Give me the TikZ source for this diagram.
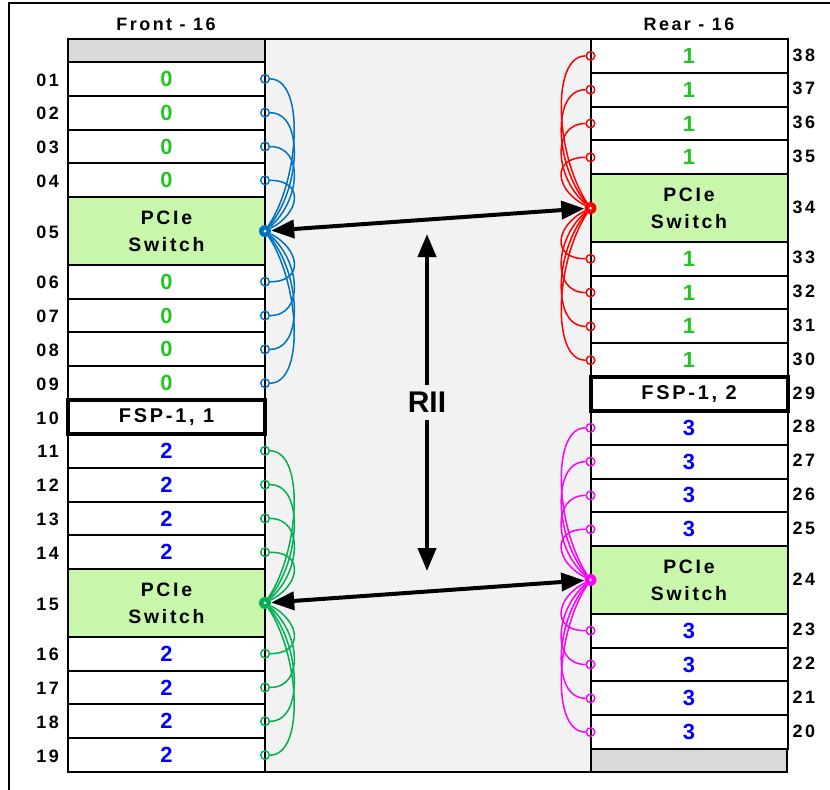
\documentclass[tikz,border=0pt]{standalone}
\usepackage{fontspec}
\setmainfont{Liberation Sans}
\newfontfamily\rackfont{Liberation Sans}[LetterSpace=14]
\usetikzlibrary{arrows.meta,calc}
\usepackage{tkz-euclide}
\definecolor{SwitchClr}{RGB}{200,247,172}
\definecolor{BlankClr}{RGB}{217,217,217}
\definecolor{MidClr}{RGB}{242,242,242}
\definecolor{EvenClr}{RGB}{34,197,34}
\definecolor{OddClr}{RGB}{0,0,255}
\definecolor{FrontTopClr}{RGB}{0,112,192}
\definecolor{FrontBotClr}{RGB}{0,176,80}
\definecolor{RearTopClr}{RGB}{255,0,0}
\definecolor{RearBotClr}{RGB}{255,0,255}
\newcommand\rowh{33.81}

\begin{document}
\begin{tikzpicture}[x=1bp,y=-1bp,
  bay/.style={draw,line width=2bp,fill=white,minimum width=197bp,minimum height=33.81bp,
    inner sep=0pt,outer sep=0pt,font=\rackfont\bfseries\fontsize{22}{22}\selectfont},
  switchbay/.style={bay,fill=SwitchClr,minimum height=67.62bp,align=center,
    font=\rackfont\bfseries\fontsize{19.5}{27}\selectfont},
  fspbay/.style={bay,line width=4bp,font=\rackfont\bfseries\fontsize{20}{20}\selectfont},
  slotnum/.style={font=\rackfont\bfseries\fontsize{18}{18}\selectfont,inner sep=0pt},
  port/.style={circle,draw=#1,line width=1.4bp,minimum size=8.6bp,inner sep=0pt},
  hub/.style={circle,fill=#1,minimum size=12bp,inner sep=0pt},
  link/.style={draw=#1,line width=1.5bp},
  bigarrow/.style={line width=4bp,>={Triangle[length=23bp,width=18bp]},<->}]
\useasboundingbox (0,0) rectangle (830,790);
\clip (0,0) rectangle (830,790);
\draw[line width=1.5bp] (9,3) rectangle (850,810);

\fill[MidClr] (265,39) rectangle (591,772);
\draw[line width=2bp] (265,39) -- (591,39) (265,772) -- (591,772);

\tkzDefPoints{166/24/F,689/24/R,427/234/U,427/571/D}
\node[slotnum] (fronthdr) at (F) {Front - 16};
\node[slotnum] (rearhdr) at (R) {Rear - 16};

\draw[line width=2bp,fill=BlankClr] (68,39) rectangle (265,62);
\draw[line width=2bp,fill=BlankClr] (591,749) rectangle (787,772);

\foreach \s/\n in {0/01,1/02,2/03,3/04,6/06,7/07,8/08,9/09}
  \node[bay,text=EvenClr] (f\n) at (166.5,{62+(\s+.5)*\rowh}) {0};
\foreach \s/\n in {11/11,12/12,13/13,14/14,17/16,18/17,19/18,20/19}
  \node[bay,text=OddClr] (f\n) at (166.5,{62+(\s+.5)*\rowh}) {2};
\node[switchbay] (f05) at (166.5,{62+5*\rowh}) {PCIe\\Switch};
\node[switchbay] (f15) at (166.5,{62+16*\rowh}) {PCIe\\Switch};
\node[fspbay] (f10) at (166.5,{62+10.5*\rowh}) {FSP-1, 1};

\foreach \s/\n in {0/38,1/37,2/36,3/35,6/33,7/32,8/31,9/30}
  \node[bay,text=EvenClr] (r\n) at (689,{39+(\s+.5)*\rowh}) {1};
\foreach \s/\n in {11/28,12/27,13/26,14/25,17/23,18/22,19/21,20/20}
  \node[bay,text=OddClr] (r\n) at (689,{39+(\s+.5)*\rowh}) {3};
\node[switchbay] (r34) at (689,{39+5*\rowh}) {PCIe\\Switch};
\node[switchbay] (r24) at (689,{39+16*\rowh}) {PCIe\\Switch};
\node[fspbay] (r29) at (689,{39+10.5*\rowh}) {FSP-1, 2};

\foreach \n in {01,02,03,04,05,06,07,08,09,10,11,12,13,14,15,16,17,18,19}
  \node[slotnum,anchor=east] (fl\n) at ($(f\n.west)+(-9,1)$) {\n};
\foreach \n in {20,21,22,23,24,25,26,27,28,29,30,31,32,33,34,35,36,37,38}
  \node[slotnum,anchor=west] (rl\n) at ($(r\n.east)+(5,-1)$) {\n};

\node[hub=FrontTopClr] (h05) at (f05.east) {};
\node[hub=FrontBotClr] (h15) at (f15.east) {};
\node[hub=RearTopClr] (h34) at (r34.west) {};
\node[hub=RearBotClr] (h24) at (r24.west) {};
\foreach \h in {h05,h15,h34,h24}
  \fill[white] (\h) circle[radius=1.5bp];

\foreach \s/\n in {0/01,1/02,2/03,3/04,6/06,7/07,8/08,9/09}{
  \node[port=FrontTopClr] (p\n) at (f\n.east) {};
  \draw[link=FrontTopClr] (p\n.east) .. controls +(35,0) and +(35,{.35*(\s-4.5)*\rowh}) .. (h05);
}
\foreach \s/\n in {11/11,12/12,13/13,14/14,17/16,18/17,19/18,20/19}{
  \node[port=FrontBotClr] (p\n) at (f\n.east) {};
  \draw[link=FrontBotClr] (p\n.east) .. controls +(35,0) and +(35,{.35*(\s-15.5)*\rowh}) .. (h15);
}
\foreach \s/\n in {0/38,1/37,2/36,3/35,6/33,7/32,8/31,9/30}{
  \node[port=RearTopClr] (p\n) at (r\n.west) {};
  \draw[link=RearTopClr] (p\n.west) .. controls +(-35,0) and +(-35,{.35*(\s-4.5)*\rowh}) .. (h34);
}
\foreach \s/\n in {11/28,12/27,13/26,14/25,17/23,18/22,19/21,20/20}{
  \node[port=RearBotClr] (p\n) at (r\n.west) {};
  \draw[link=RearBotClr] (p\n.west) .. controls +(-35,0) and +(-35,{.35*(\s-15.5)*\rowh}) .. (h24);
}

\draw[bigarrow] (h05) -- (h34);
\draw[bigarrow] (h15) -- (h24);
\draw[bigarrow] (U) -- (D) node[midway,fill=MidClr,inner xsep=4bp,inner ysep=7bp,
  font=\bfseries\fontsize{30}{30}\selectfont] (rii) {RII};

\end{tikzpicture}
\end{document}
